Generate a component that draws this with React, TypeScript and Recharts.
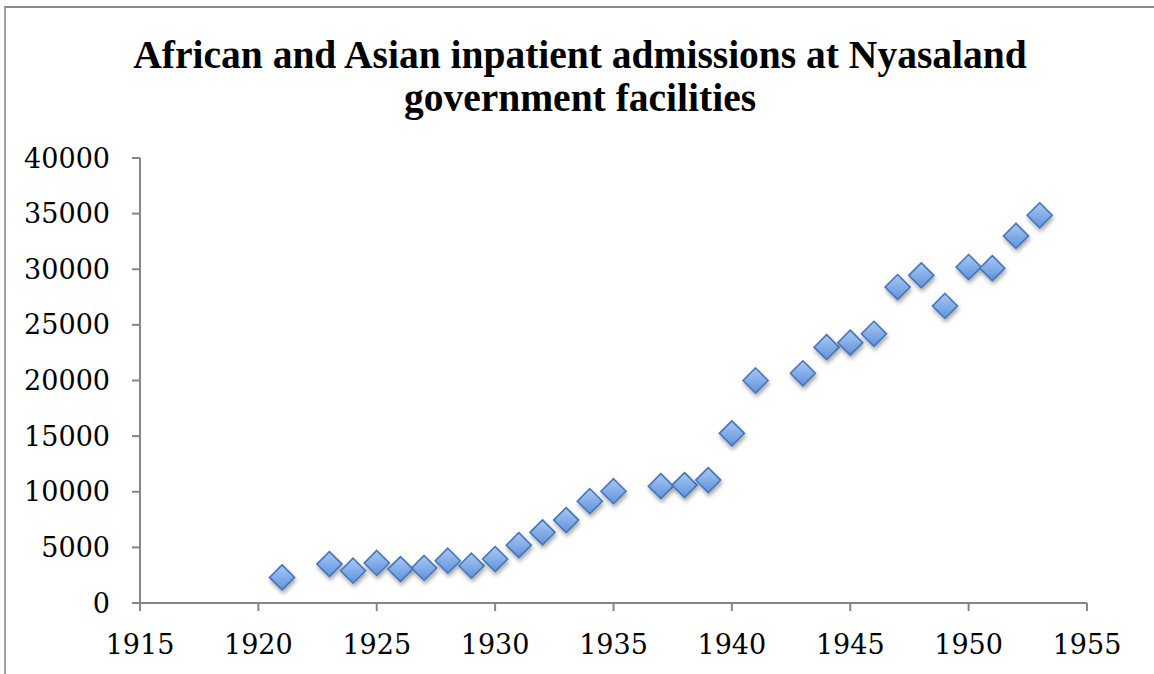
import React from 'react';
import { ScatterChart, Scatter, XAxis, YAxis } from 'recharts';

const years = [1921, 1923, 1924, 1925, 1926, 1927, 1928, 1929, 1930, 1931, 1932, 1933, 1934, 1935, 1937, 1938, 1939, 1940, 1941, 1943, 1944, 1945, 1946, 1947, 1948, 1949, 1950, 1951, 1952, 1953];
const admissions = [2300, 3500, 2900, 3600, 3050, 3150, 3800, 3350, 3950, 5200, 6350, 7450, 9150, 10050, 10500, 10600, 11050, 15250, 20000, 20650, 23000, 23400, 24200, 28400, 29450, 26700, 30200, 30100, 33000, 34850];
const xTicks = [1915, 1920, 1925, 1930, 1935, 1940, 1945, 1950, 1955];
const yTicks = [0, 5000, 10000, 15000, 20000, 25000, 30000, 35000, 40000];
const titleLines = ['African and Asian inpatient admissions at Nyasaland', 'government facilities'];

const data = years.map((y, i) => ({ year: y, value: admissions[i] }));

const Diamond = (props: any) => {
  const { cx, cy } = props;
  const r = 12.5;
  const d = `M${cx},${cy - r} L${cx + r},${cy} L${cx},${cy + r} L${cx - r},${cy} Z`;
  return (
    <g>
      <path d={d} fill="url(#dGrad)" stroke="#4676b6" strokeWidth={1.6} filter="url(#dShadow)" />
    </g>
  );
};

const axisFont = { fontFamily: 'DejaVu Serif', fontSize: 27, fill: '#000' };

export default function App() {
  return (
    <div style={{ position: 'absolute', left: 0, top: 0, width: 1154, height: 674, background: '#fff', overflow: 'hidden' }}>
      <div style={{ position: 'absolute', left: 4, top: 6, width: 1200, height: 700, borderTop: '2px solid #8a8a8a', borderLeft: '2px solid #a0a0a0' }} />
      <div style={{ position: 'absolute', left: 0, top: 34, width: 1160, textAlign: 'center', fontFamily: 'Liberation Serif', fontWeight: 'bold', fontSize: 39.5, lineHeight: '43px', color: '#000' }}>
        {titleLines.map((t) => (
          <div key={t}>{t}</div>
        ))}
      </div>
      <div style={{ position: 'absolute', left: 0, top: 0 }}>
        <ScatterChart width={1154} height={674} margin={{ top: 158, right: 67, bottom: 21, left: 40 }}>
          <defs>
            <linearGradient id="dGrad" x1="0" y1="0" x2="0" y2="1">
              <stop offset="0%" stopColor="#a9c9f4" />
              <stop offset="100%" stopColor="#5f92dc" />
            </linearGradient>
            <filter id="dShadow" x="-50%" y="-50%" width="200%" height="200%">
              <feDropShadow dx="1" dy="3" stdDeviation="2" floodColor="#000" floodOpacity="0.35" />
            </filter>
          </defs>
          <XAxis
            type="number"
            dataKey="year"
            domain={[1915, 1955]}
            ticks={xTicks}
            interval={0}
            height={50}
            tickSize={8}
            tickMargin={24}
            stroke="#868686"
            strokeWidth={2}
            tick={axisFont}
            allowDataOverflow
          />
          <YAxis
            type="number"
            dataKey="value"
            domain={[0, 40000]}
            ticks={yTicks}
            interval={0}
            width={100}
            tickSize={8}
            tickMargin={22}
            stroke="#868686"
            strokeWidth={2}
            tick={axisFont}
          />
          <Scatter data={data} shape={Diamond} isAnimationActive={false} />
        </ScatterChart>
      </div>
    </div>
  );
}
